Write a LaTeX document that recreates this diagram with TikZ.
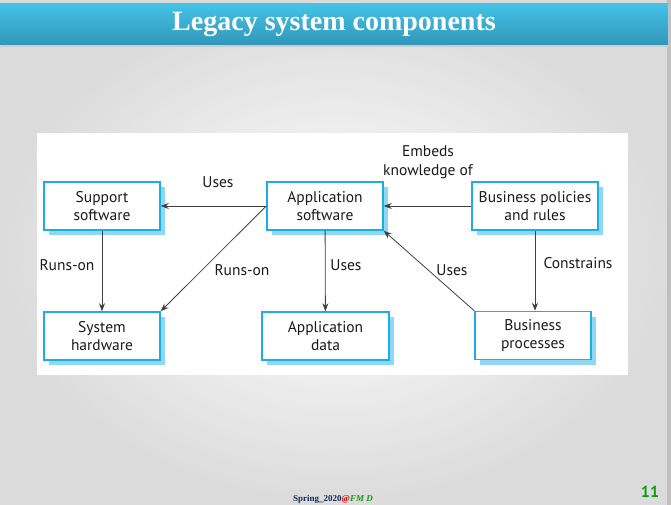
\documentclass[tikz,border=0pt]{standalone}
\usepackage{fontspec}
\setmainfont{Liberation Serif}
\setsansfont{PT Sans}
\usetikzlibrary{positioning, arrows.meta, shadows}
\definecolor{boxblue}{HTML}{1AAEE5}
\definecolor{shadowblue}{HTML}{8ED8F5}
\definecolor{titletop}{HTML}{44C2E4}
\definecolor{titlebot}{HTML}{3197BA}
\definecolor{footgreen}{HTML}{109A10}
\definecolor{footnavy}{HTML}{1A2A5A}
\tikzset{
  >={Stealth[length=8pt,width=6pt]},
  comp/.style={draw=boxblue, line width=1.5pt, fill=white,
    minimum width=116pt, minimum height=48pt, align=center,
    font=\sffamily\fontsize{15.5}{17.5}\selectfont, text=black!90,
    drop shadow={shadow xshift=5pt, shadow yshift=-5pt, fill=shadowblue, opacity=1}},
  rel/.style={->, draw=black!75, line width=0.8pt},
  lbl/.style={font=\sffamily\fontsize{15.5}{18.5}\selectfont, align=center, text=black!90},
}

\begin{document}
\begin{tikzpicture}[x=1pt, y=-1pt]
		\useasboundingbox (0,0) rectangle (671,505);

		% slide background
		\shade[inner color=white, outer color=gray!28] (0,0) rectangle (671,505);
		\fill[gray!50] (667,0) rectangle (671,505);
		\fill[white] (37,133) rectangle (628,375);

		% title bar
		\fill[gray!40] (1,6) rectangle (669,47);
		\shade[top color=titletop, bottom color=titlebot] (0,4) rectangle (668,45);
		\node[text=white, font=\bfseries\fontsize{28}{30}\selectfont] (title) at (334,24) {Legacy system components};

		% components
		\node[comp] (supsw) at (102,206) {Support\\software};
		\node[comp] (appsw) at (325,206) {Application\\software};
		\node[comp, minimum width=126pt] (bpol) at (535,206) {Business policies\\and rules};
		\node[comp] (syshw) at (102,336) {System\\hardware};
		\node[comp, minimum width=127pt] (appdata) at (325.5,336) {Application\\data};
		\node[comp] (bproc) at (533,335.5) {Business\\processes};

		% relations
		\draw[rel] (appsw) -- (supsw);
		\draw[rel] (supsw) -- (syshw);
		\draw[rel] (appsw.west) -- (syshw.north east);
		\draw[rel] (appsw) -- (appdata);
		\draw[rel] (bpol) -- (appsw);
		\draw[rel] (bproc.north west) -- (appsw.south east);
		\draw[rel] (bpol.south) -- (bpol.south |- bproc.north);

		% labels
		\node[lbl] (l1) at (218,182) {Uses};
		\node[lbl] (l2) at (67,265) {Runs-on};
		\node[lbl] (l3) at (242,270) {Runs-on};
		\node[lbl] (l4) at (346,265) {Uses};
		\node[lbl] (l5) at (428,162) {Embeds\\knowledge of};
		\node[lbl] (l6) at (452,270) {Uses};
		\node[lbl] (l7) at (578,263) {Constrains};

		% footer
		\node[font=\bfseries\fontsize{9}{10}\selectfont, inner sep=0pt] (foot) at (333,499)
			{\textcolor{footnavy}{Spring\_2020}\textcolor{red!80!black}{@}\textcolor{footgreen}{\textit{FM D}}};
		\node[font=\sffamily\bfseries\fontsize{16}{18}\selectfont, text=footgreen] (page) at (650,492) {11};

	\end{tikzpicture}
\end{document}
